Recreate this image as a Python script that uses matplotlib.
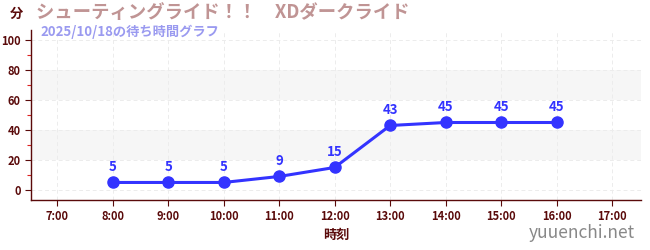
import matplotlib
matplotlib.use("Agg")
import matplotlib.pyplot as plt
from matplotlib.ticker import MultipleLocator, FixedLocator

plt.rcParams['font.family'] = ['Noto Sans CJK JP', 'DejaVu Sans']

hours = [8, 9, 10, 11, 12, 13, 14, 15, 16]
waits = [5, 5, 5, 9, 15, 43, 45, 45, 45]
tick_hours = list(range(7, 18))
tick_labels = [f"{h}:00" for h in tick_hours]
title = "シューティングライド！！　XDダークライド"
subtitle = "2025/10/18の待ち時間グラフ"

fig = plt.figure(figsize=(6.5, 2.5), dpi=100)
ax = fig.add_axes([0.0477, 0.2, 0.9385, 0.68])
ax.set_xlim(6.53, 17.52)
ax.set_ylim(-6.7, 106.7)

dark = '#5a0a0a'
for lo, hi in [(20, 40), (60, 80)]:
    ax.axhspan(lo, hi, color='#f6f6f6', zorder=0, lw=0)
for y in range(0, 101, 20):
    ax.axhline(y, color='#ececec', lw=0.7, ls=(0, (4, 3)), zorder=0.5)
for h in tick_hours:
    ax.axvline(h, color='#ececec', lw=0.7, ls=(0, (4, 3)), zorder=0.5)

line_color = '#3333ff'
ax.plot(hours, waits, color=line_color, lw=2.2, marker='o', ms=8, zorder=3)
for h, w in zip(hours, waits):
    ax.annotate(str(w), (h, w), xytext=(0, 6), textcoords='offset points',
                ha='center', va='bottom', color=line_color, fontsize=9.5,
                fontweight='bold')

ax.xaxis.set_major_locator(FixedLocator(tick_hours))
ax.set_xticklabels(tick_labels)
ax.yaxis.set_major_locator(MultipleLocator(20))
ax.yaxis.set_minor_locator(MultipleLocator(10))
ax.tick_params(axis='both', which='major', colors=dark, labelsize=8, length=4, width=0.8)
ax.tick_params(axis='y', which='minor', color='#dd2222', length=3, width=0.8)
for lab in ax.get_xticklabels() + ax.get_yticklabels():
    lab.set_fontweight('bold')
    lab.set_color(dark)

for s in ['top', 'right']:
    ax.spines[s].set_visible(False)
for s in ['left', 'bottom']:
    ax.spines[s].set_color(dark)
    ax.spines[s].set_linewidth(1.0)

ax.set_xlabel("時刻", color=dark, fontsize=9.5, fontweight='bold', labelpad=3)

fig.text(16/650, 1 - 14/250, "分", color=dark, fontsize=9.5, fontweight='bold', ha='center', va='center')
fig.text(36/650, 1 - 13/250, title, color='#c09494', fontsize=13.2, fontweight='bold', ha='left', va='center')
fig.text(40/650, 1 - 32/250, subtitle, color='#9a9af0', fontsize=9.5, fontweight='bold', ha='left', va='center')
fig.text(635/650, 1 - 233/250, "yuuenchi.net", color='#888888', fontsize=12.5, ha='right', va='center')

fig.savefig("out.png", dpi=100)
